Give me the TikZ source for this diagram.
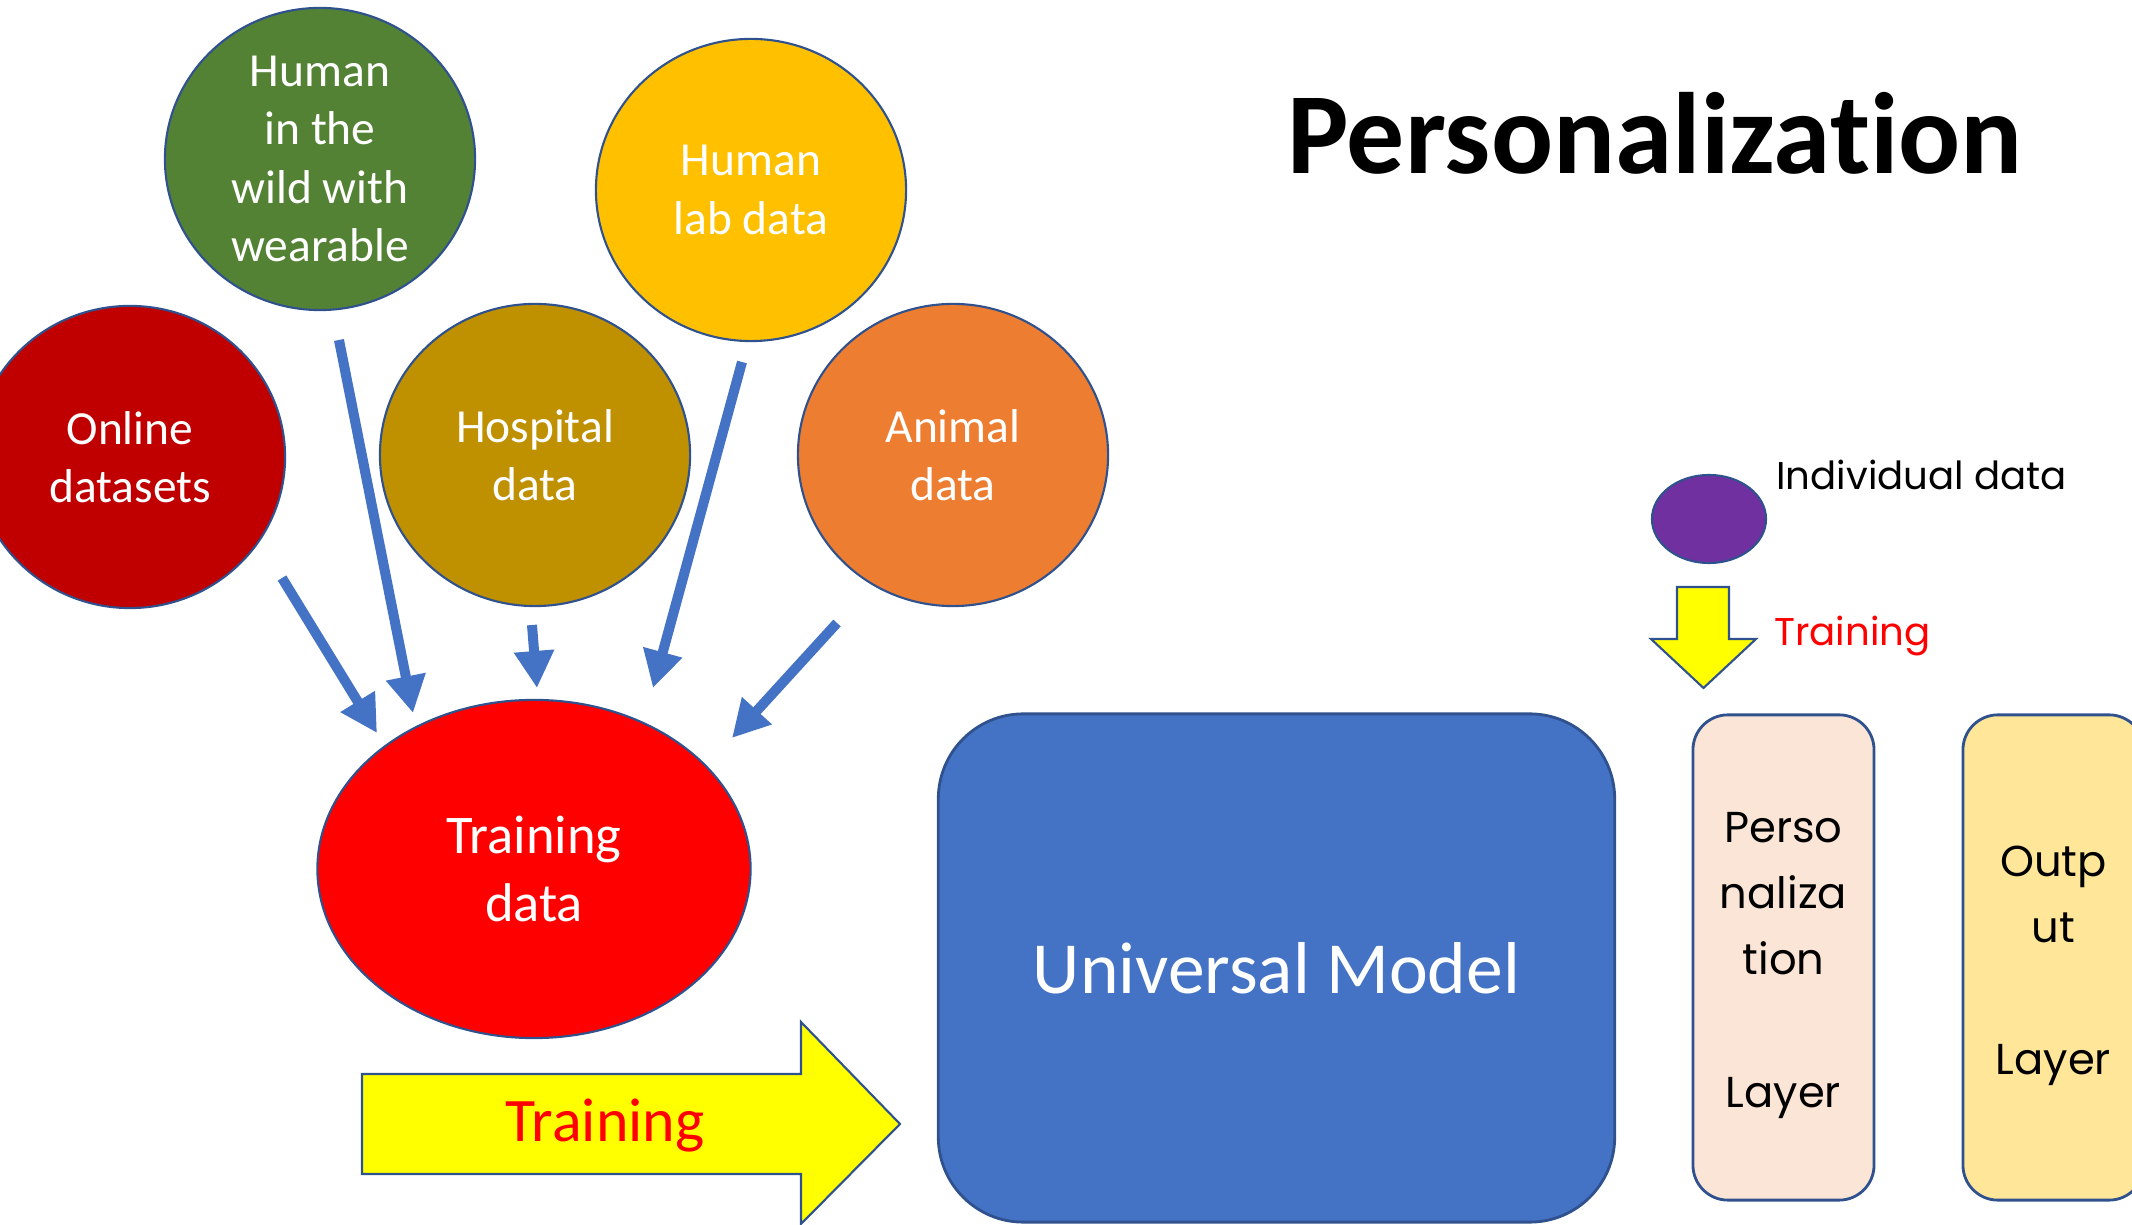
\documentclass[tikz,border=0pt]{standalone}
\usepackage{fontspec}
\setmainfont{Carlito}[Ligatures=CommonOff]
\newfontfamily\gothic{Poppins}
\usetikzlibrary{arrows.meta,shapes.geometric,positioning}

\definecolor{edgeblue}{HTML}{2F528F}
\definecolor{arrowblue}{HTML}{4472C4}
\definecolor{onlinered}{HTML}{C00000}
\definecolor{wildgreen}{HTML}{548235}
\definecolor{labyellow}{HTML}{FFC000}
\definecolor{hospitalgold}{HTML}{BF9000}
\definecolor{animalorange}{HTML}{ED7D31}
\definecolor{trainred}{HTML}{FF0000}
\definecolor{indivpurple}{HTML}{7030A0}
\definecolor{persopink}{HTML}{FBE5D6}
\definecolor{outputyellow}{HTML}{FFE699}
\definecolor{blockyellow}{HTML}{FFFF00}

\begin{document}
\begin{tikzpicture}[x=0.01cm,y=-0.01cm,
  data node/.style={ellipse,draw=edgeblue,line width=0.6pt,minimum width=3.1cm,minimum height=3.02cm,
    inner sep=0pt,text=white,align=center,font=\fontsize{13.5}{16.6}\selectfont},
  layer box/.style={rectangle,rounded corners=0.35cm,draw=edgeblue,line width=0.8pt,minimum width=1.81cm,
    minimum height=4.85cm},
  layer text/.style={align=center,font=\gothic\fontsize{12.3}{18.8}\selectfont},
  feed/.style={-{Triangle[width=0.38cm,length=0.37cm]},line width=0.1cm,color=arrowblue},
  block arrow/.style={fill=blockyellow,draw=edgeblue,line width=0.6pt}]
  \useasboundingbox (0,0) rectangle (2132,1225);

  % data sources
  \node[data node,fill=onlinered] (online) at (130,457) {Online\\datasets};
  \node[data node,fill=wildgreen,inner ysep=-5pt] (wild) at (320,159) {Human\\in the\\wild with\\wearable};
  \node[data node,fill=labyellow] (lab) at (751,190) {Human\\lab data};
  \node[data node,fill=hospitalgold] (hospital) at (535,455) {Hospital\\data};
  \node[data node,fill=animalorange] (animal) at (953,455) {Animal\\data};
  \node[data node,fill=trainred,minimum width=4.33cm,minimum height=3.38cm,
    font=\fontsize{15.5}{19.3}\selectfont] (train) at (534,869) {Training\\data};

  % arrow ends
  \coordinate (s1) at (282,578);  \coordinate (t1) at (377,733);
  \coordinate (s2) at (339,340);  \coordinate (t2) at (413,713);
  \coordinate (s3) at (532,625);  \coordinate (t3) at (537,688);
  \coordinate (s4) at (742,362);  \coordinate (t4) at (653,688);
  \coordinate (s5) at (837,623);  \coordinate (t5) at (732,738);

  \path[feed]
  (s1) edge (t1)
  (s2) edge (t2)
  (s3) edge (t3)
  (s4) edge (t4)
  (s5) edge (t5)
  ;

  % training arrow
  \draw[block arrow] (362,1074) -- (801,1074) -- (801,1022) -- (900,1124) -- (801,1224)
    -- (801,1174) -- (362,1174) -- cycle;
  \node[text=trainred,font=\fontsize{17.6}{21}\selectfont] (trainlabel) at (605,1126) {Training};

  \node[rectangle,rounded corners=0.85cm,fill=arrowblue,draw=edgeblue,line width=0.8pt,
    minimum width=6.76cm,minimum height=5.08cm,text=white,font=\fontsize{20.9}{25}\selectfont]
    (universal) at (1276.5,968) {Universal Model};

  % personalization side
  \node[anchor=base,font=\bfseries\fontsize{32.9}{40}\selectfont] (title) at (1655,174) {Personalization};
  \node[ellipse,fill=indivpurple,draw=edgeblue,line width=0.6pt,minimum width=1.14cm,minimum height=0.88cm]
    (indiv) at (1709,519) {};
  \node[anchor=base west,font=\gothic\fontsize{11}{13}\selectfont] (indivlabel) at (1764,490) {Individual data};
  \draw[block arrow] (1677,587) -- (1729,587) -- (1729,639) -- (1756,639) -- (1703.5,688)
    -- (1651,639) -- (1677,639) -- cycle;
  \node[anchor=base west,text=trainred,font=\gothic\fontsize{11}{13}\selectfont] (persolabel) at (1762,646) {Training};

  \node[layer box,fill=persopink] (perso) at (1783.5,957.5) {};
  \node[layer text] (persotext) at ([yshift=-0.08cm]perso.center) {Perso\\naliza\\tion\\[18.8pt]Layer};
  \node[layer box,fill=outputyellow] (output) at (2053.5,957.5) {};
  \node[layer text] (outputtext) at ([yshift=-0.08cm]output.center) {Outp\\ut\\[18.8pt]Layer};
\end{tikzpicture}
\end{document}
